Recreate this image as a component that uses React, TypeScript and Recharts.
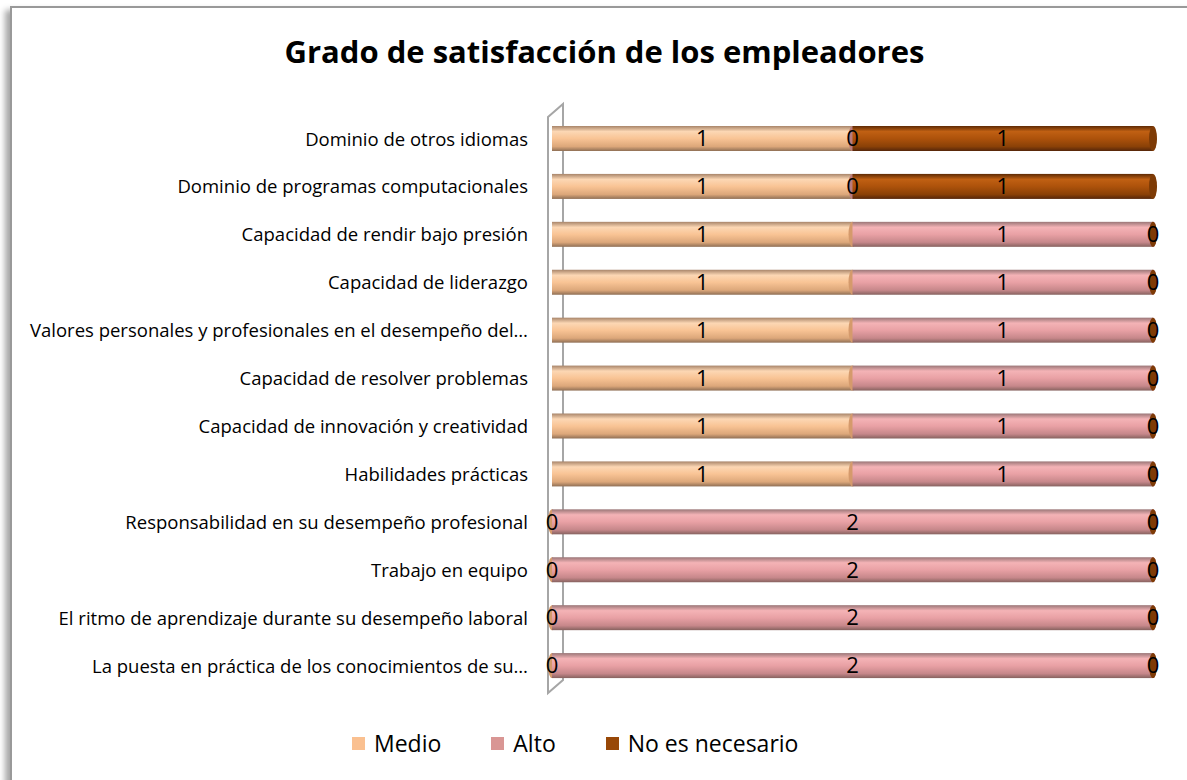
import React from 'react';
import { BarChart, Bar, XAxis, YAxis, LabelList } from 'recharts';

// categories, top to bottom as they appear in the chart
const categories = [
  'Dominio de otros idiomas',
  'Dominio de programas computacionales',
  'Capacidad de rendir bajo presión',
  'Capacidad de liderazgo',
  'Valores personales y profesionales en el desempeño del…',
  'Capacidad de resolver problemas',
  'Capacidad de innovación y creatividad',
  'Habilidades prácticas',
  'Responsabilidad en su desempeño profesional',
  'Trabajo en equipo',
  'El ritmo de aprendizaje durante su desempeño laboral',
  'La puesta en práctica de los conocimientos de su…',
];

const medio = [1, 1, 1, 1, 1, 1, 1, 1, 0, 0, 0, 0];
const alto = [0, 0, 1, 1, 1, 1, 1, 1, 2, 2, 2, 2];
const noEsNecesario = [1, 1, 0, 0, 0, 0, 0, 0, 0, 0, 0, 0];

const xDomain = [0, 2];

const series = [
  {
    key: 'medio',
    name: 'Medio',
    swatch: '#FAC090',
    stops: ['#a8856a', '#fcd7b4', '#f9c495', '#dca77a', '#8f6f55'],
    cap: '#d59a6c',
  },
  {
    key: 'alto',
    name: 'Alto',
    swatch: '#D99694',
    stops: ['#9a7677', '#f4b3b6', '#e9a1a5', '#c6878a', '#86625f'],
    cap: '#b97b7e',
  },
  {
    key: 'noEsNecesario',
    name: 'No es necesario',
    swatch: '#984807',
    stops: ['#5e2a04', '#c06013', '#ad520b', '#8a4107', '#55260a'],
    cap: '#7e3b06',
  },
];

const data = categories.map((name, i) => ({
  name,
  medio: medio[i],
  alto: alto[i],
  noEsNecesario: noEsNecesario[i],
}));

const W = 1187;
const H = 780;
const M = { top: 115, right: 34, bottom: 90, left: 0 };
const Y_AXIS_W = 552;
const FONT = '"Open Sans", Calibri, sans-serif';

const makeCylinder = (key: string, cap: string) => (props: any) => {
  const { x, y, width, height } = props;
  if (x == null || y == null || !height) return <g />;
  const cy = y + height / 2;
  return (
    <g>
      {width > 0 && (
        <rect x={x} y={y} width={width} height={height} fill={`url(#cyl-${key})`} />
      )}
      <ellipse cx={x + width} cy={cy} rx={4} ry={height / 2} fill={cap} />
    </g>
  );
};

// side wall of the 3D category axis, drawn behind the bars
const Wall = () => {
  const left = M.left + Y_AXIS_W;
  const top = M.top;
  const bottom = H - M.bottom;
  const pts = [
    [left - 4, top + 2],
    [left + 11, top - 11],
    [left + 11, bottom - 10],
    [left - 4, bottom + 3],
  ];
  return (
    <svg width={W} height={H} style={{ position: 'absolute', left: 0, top: 0 }}>
      <polygon
        points={pts.map((p) => p.join(',')).join(' ')}
        fill="none"
        stroke="#a6a6a6"
        strokeWidth={2}
      />
    </svg>
  );
};

export default function App() {
  return (
    <div
      style={{
        position: 'absolute',
        left: 0,
        top: 0,
        width: W,
        height: H,
        overflow: 'hidden',
        background: '#fff',
        fontFamily: FONT,
      }}
    >
      <div
        style={{
          position: 'absolute',
          left: 10,
          top: 6,
          width: W + 20,
          height: H + 20,
          borderTop: '2px solid #999',
          borderLeft: '2px solid #999',
          boxShadow: '-5px 4px 6px rgba(0,0,0,0.35)',
          background: '#fff',
        }}
      />
      <div
        style={{
          position: 'absolute',
          left: 12,
          top: 30,
          width: W - 2,
          textAlign: 'center',
          fontSize: 31,
          fontWeight: 700,
          color: '#000',
        }}
      >
        Grado de satisfacción de los empleadores
      </div>
      <Wall />
      <div style={{ position: 'absolute', left: 0, top: 0 }}>
        <BarChart width={W} height={H} data={data} layout="vertical" margin={M}>
          <defs>
            {series.map((s) => (
              <linearGradient key={s.key} id={`cyl-${s.key}`} x1="0" y1="0" x2="0" y2="1">
                <stop offset="0" stopColor={s.stops[0]} />
                <stop offset="0.22" stopColor={s.stops[1]} />
                <stop offset="0.5" stopColor={s.stops[2]} />
                <stop offset="0.82" stopColor={s.stops[3]} />
                <stop offset="1" stopColor={s.stops[4]} />
              </linearGradient>
            ))}
          </defs>
          <XAxis type="number" domain={xDomain} hide />
          <YAxis
            type="category"
            dataKey="name"
            width={Y_AXIS_W}
            axisLine={false}
            tickLine={false}
            tickSize={0}
            tickMargin={24}
            interval={0}
            tick={{ fill: '#000', fontSize: 18.5, fontFamily: FONT }}
          />
          {series.map((s) => (
            <Bar
              key={s.key}
              dataKey={s.key}
              name={s.name}
              stackId="a"
              fill={s.swatch}
              barSize={25}
              isAnimationActive={false}
              shape={makeCylinder(s.key, s.cap)}
            >
              <LabelList
                dataKey={s.key}
                position="center"
                fill="#000"
                fontSize={22}
                fontFamily={FONT}
              />
            </Bar>
          ))}
        </BarChart>
      </div>
      <div
        style={{
          position: 'absolute',
          left: 352,
          top: 727,
          display: 'flex',
          alignItems: 'center',
          fontSize: 23,
          color: '#000',
        }}
      >
        {series.map((s) => (
          <div key={s.key} style={{ display: 'flex', alignItems: 'center', marginRight: 50 }}>
            <span
              style={{ width: 13, height: 13, background: s.swatch, display: 'inline-block', marginRight: 9 }}
            />
            <span>{s.name}</span>
          </div>
        ))}
      </div>
    </div>
  );
}
